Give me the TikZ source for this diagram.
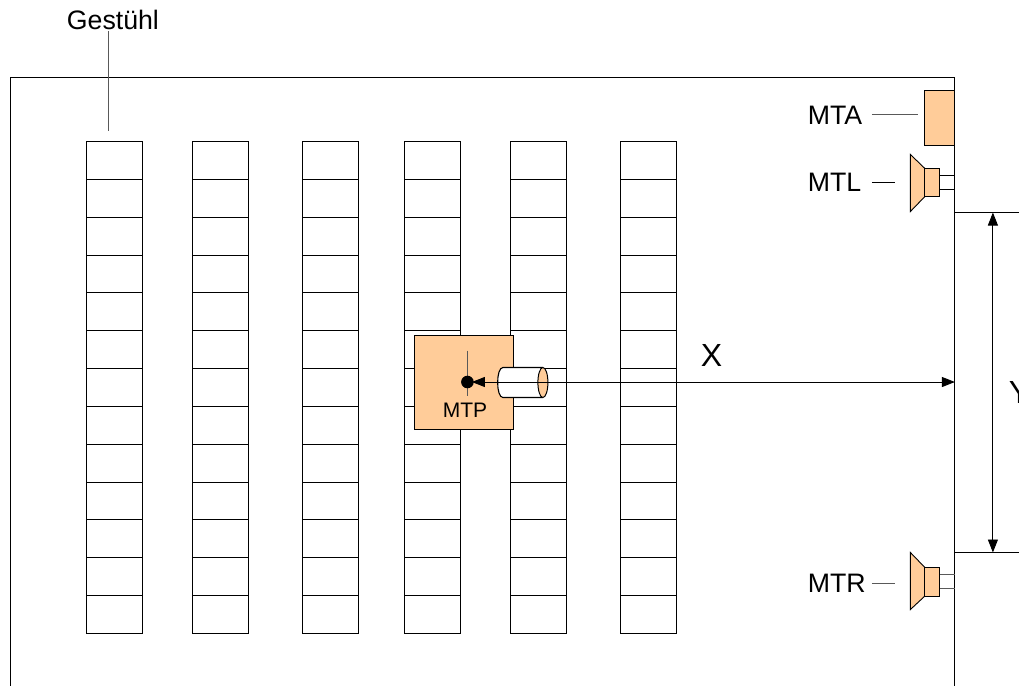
\documentclass[tikz,border=0pt]{standalone}
\usepackage{fontspec}
\setmainfont{Liberation Sans}
\usetikzlibrary{arrows.meta}
\definecolor{peach}{HTML}{FFCC99}
\tikzset{
  ln/.style={draw=black,line width=0.9pt},
  leader/.style={draw=black!65,line width=0.9pt},
  seat/.style={draw=black,line width=0.8pt,fill=white,minimum width=56pt,minimum height=37.83pt,inner sep=0pt,outer sep=0pt,anchor=north west},
  lbl/.style={inner sep=0pt,outer sep=0pt,anchor=base west,font=\fontsize{26.7}{27}\selectfont},
  peachbox/.style={draw=black,line width=1pt,fill=peach},
  tips/.style={{Triangle[length=13pt,width=10pt]}-{Triangle[length=13pt,width=10pt]}},
  anchorpt/.style={inner sep=0pt,outer sep=0pt,minimum size=0pt}
}
\begin{document}
\begin{tikzpicture}[x=1pt,y=-1pt]
\useasboundingbox (0.1,0.5) rectangle (1019.1,685.5);
\clip (0.1,0.5) rectangle (1019.1,685.5);
\fill[white] (0,0) rectangle (1020,686);
% room
\coordinate (fbl) at (11,700);
\coordinate (ftl) at (11,78);
\coordinate (ftr) at (955,78);
\coordinate (fbr) at (955,700);
\draw[ln] (fbl) -- (ftl) -- (ftr) -- (fbr);
% seating
\foreach \c/\x in {a/86,b/192,c/302.5,d/404,e/510,f/620}{
  \foreach \r in {0,...,12}{
    \node[seat] (\c\r) at (\x,{142+37.83*\r}) {};
  }
}
% Gestuehl label
\node[lbl] (gest) at (67,30) {Gestühl};
\coordinate (gestend) at (109,131);
\draw[leader] (109,32) -- (gestend);
% MTA
\node[peachbox,minimum width=30pt,minimum height=54.5pt,inner sep=0pt,outer sep=0pt,anchor=north west] (mta) at (925,91) {};
\node[lbl] (mtal) at (808,124.5) {MTA};
\draw[leader] (872,115) -- (918,115);
% MTL speaker
\draw[peachbox,line width=0.9pt] (910.5,155) -- (925,169) -- (925,197) -- (910.5,212) -- cycle;
\node[peachbox,minimum width=15pt,minimum height=28pt,inner sep=0pt,outer sep=0pt,anchor=north west] (mtlb) at (925,169) {};
\draw[ln] (940,176) -- (955,176) (940,190) -- (955,190);
\node[lbl] (mtll) at (808,191.5) {MTL};
\draw[ln] (872,183) -- (895,183);
% MTR speaker
\draw[peachbox,line width=0.9pt] (910.5,553) -- (925,568) -- (925,596.5) -- (910.5,610) -- cycle;
\node[peachbox,minimum width=15pt,minimum height=28.5pt,inner sep=0pt,outer sep=0pt,anchor=north west] (mtrb) at (925,568) {};
\draw[leader] (940,574.5) -- (955,574.5) (940,589) -- (955,589);
\node[lbl] (mtrl) at (808,592.5) {MTR};
\draw[leader] (872,584) -- (895,584);
% Y dimension
\coordinate (yt) at (993,213);
\coordinate (yb) at (993,553);
\draw[ln] (955,213) -- (1020,213);
\draw[ln] (955,553) -- (1020,553);
\draw[line width=0.9pt,tips] (yt) -- (yb);
\node[lbl,font=\fontsize{32}{32}\selectfont] (yl) at (1009,403.5) {Y};
% MTP
\node[peachbox,minimum width=99pt,minimum height=94pt,inner sep=0pt,outer sep=0pt,anchor=north west] (mtp) at (415,336) {};
\draw[leader] (467.5,351) -- (467.5,396);
\node[lbl,font=\fontsize{21}{21}\selectfont] (mtpl) at (443,418) {MTP};
% camera
\fill[white] (503,368) -- (543,368) -- (543,398) -- (503,398) .. controls (496,398) and (496,368) .. (503,368) -- cycle;
\draw[line width=1.1pt] (543,368) -- (503,368) .. controls (496,368) and (496,398) .. (503,398) -- (543,398);
\draw[peachbox] (543,383) ellipse[x radius=5pt,y radius=15pt];
% X dimension
\coordinate (xend) at (955,382.5);
\coordinate (xstart) at (472,382.5);
\draw[line width=0.9pt,draw=black,tips] (xstart) -- (xend);
\fill (467.5,382.5) circle[radius=6.3pt];
\node[lbl,font=\fontsize{32}{32}\selectfont] (xl) at (701,366.5) {X};
\end{tikzpicture}
\end{document}
